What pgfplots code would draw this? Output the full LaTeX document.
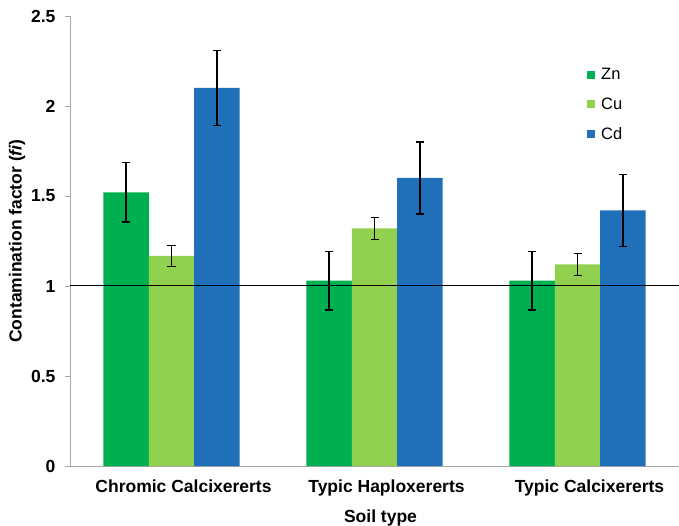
\documentclass[border=0pt]{standalone}
\usepackage{pgfplots}
\pgfplotsset{compat=1.18}
\usepackage{fontspec}
\setmainfont{Liberation Sans}
\definecolor{zn}{HTML}{00B050}
\definecolor{cu}{HTML}{92D050}
\definecolor{cd}{HTML}{1F70B8}
\definecolor{axgray}{HTML}{A6A6A6}
\begin{document}
\begin{tikzpicture}
\path[use as bounding box] (-70bp,-60bp) rectangle (609bp,16bp+450bp);
\begin{axis}[
  at={(0,0)}, anchor=south west,
  scale only axis, width=609bp, height=450bp,
  xmin=-0.5, xmax=2.5, ymin=0, ymax=2.5,
  axis x line=bottom, axis y line=left,
  axis line style={-, draw=axgray, line width=0.8bp},
  xtick={0,1,2},
  xticklabels={Chromic Calcixererts, Typic Haploxererts, Typic Calcixererts},
  major x tick style={draw=none},
  extra x ticks={-0.5,0.5,1.5,2.5},
  extra x tick labels={},
  extra x tick style={tick style={draw=axgray, line width=0.8bp}, major tick length=5bp, tick align=outside},
  ytick={0,0.5,1,1.5,2,2.5},
  yticklabels={0,0.5,1,1.5,2,2.5},
  y tick style={draw=axgray, line width=0.8bp},
  tick align=outside, major tick length=5bp,
  xticklabel style={font=\fontsize{17.5bp}{19bp}\selectfont\bfseries, yshift=-5bp, xshift=12bp},
  yticklabel style={font=\fontsize{17.5bp}{19bp}\selectfont\bfseries, xshift=-6bp},
  xlabel={\textbf{Soil type}},
  ylabel={\textbf{Contamination factor (\textit{fi})}},
  xlabel style={font=\fontsize{17.5bp}{19bp}\selectfont, yshift=3bp, xshift=6bp},
  ylabel style={font=\fontsize{17.5bp}{19bp}\selectfont, yshift=-1bp},
  bar width=0.224,
  legend style={at={(0.849,0.888)}, anchor=north west, draw=none, fill=none,
    font=\fontsize{16.5bp}{19bp}\selectfont, row sep=12.5bp, inner sep=0pt},
  legend cell align=left,
  legend image code/.code={\fill[#1] (0bp,-4bp) rectangle (8bp,4bp); \path (12bp,0bp);},
  clip=false,
]
\addplot[ybar, bar shift=0, fill=zn, draw=none,
  error bars/.cd, y dir=both, y explicit,
  error bar style={black, line width=1.2bp}, error mark options={black, line width=1.2bp, mark size=4bp, rotate=90}]
  coordinates {(-0.224,1.52) +- (0,0.165) (0.776,1.03) +- (0,0.163) (1.776,1.03) +- (0,0.163)};
\addlegendentry{Zn}
\addplot[ybar, bar shift=0, fill=cu, draw=none,
  error bars/.cd, y dir=both, y explicit,
  error bar style={black, line width=1.2bp}, error mark options={black, line width=1.2bp, mark size=4bp, rotate=90}]
  coordinates {(0,1.167) +- (0,0.06) (1,1.32) +- (0,0.06) (2,1.12) +- (0,0.06)};
\addlegendentry{Cu}
\addplot[ybar, bar shift=0, fill=cd, draw=none,
  error bars/.cd, y dir=both, y explicit,
  error bar style={black, line width=1.2bp}, error mark options={black, line width=1.2bp, mark size=4bp, rotate=90}]
  coordinates {(0.224,2.1) +- (0,0.21) (1.224,1.6) +- (0,0.2) (2.224,1.42) +- (0,0.2)};
\addlegendentry{Cd}
\addplot[black, line width=1bp, forget plot] coordinates {(-0.5,1) (2.5,1)};
\end{axis}
\end{tikzpicture}
\end{document}
